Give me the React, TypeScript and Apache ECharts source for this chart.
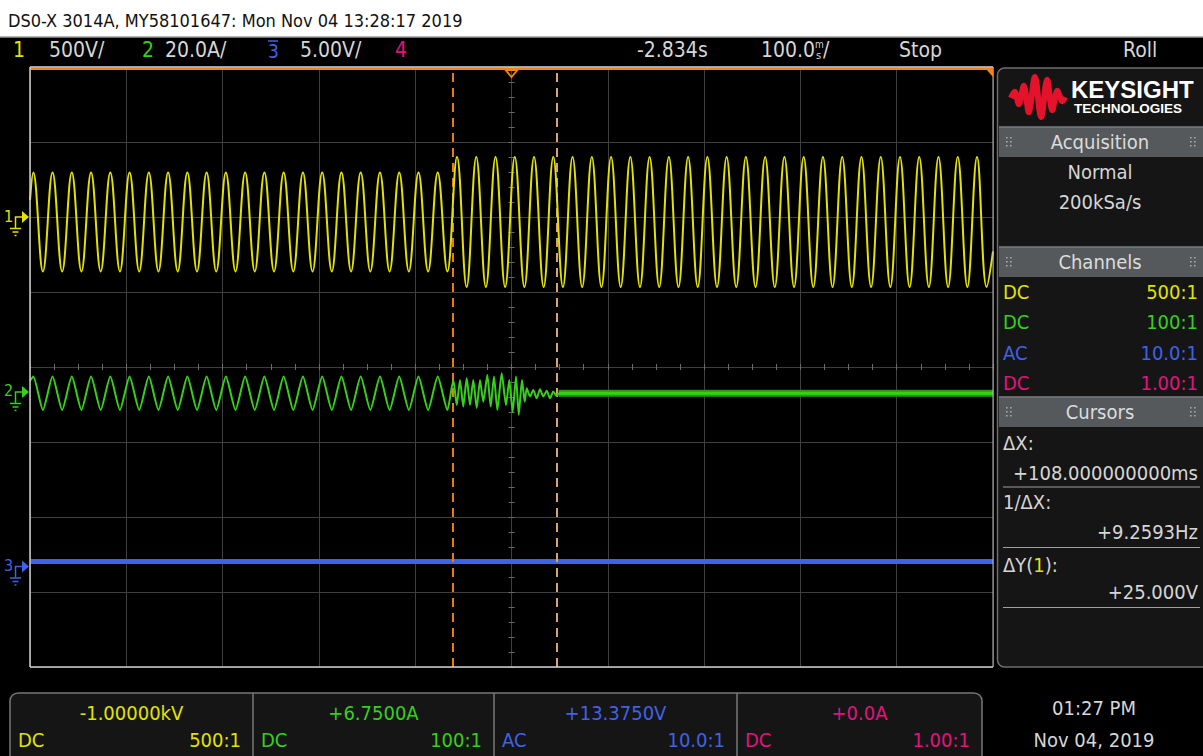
import React, { useEffect, useRef } from "react";
import * as echarts from "echarts";

const FONT = '"DejaVu Sans Condensed", "Liberation Sans Narrow", "DejaVu Sans", sans-serif';

// ---- time base (ms, trigger at 0) ----
const timeMinMs = -500;
const timeMaxMs = 500;
const timePerDivMs = 100;
const vertDivs = 4;

// ---- channel 1 (yellow, volts) ----
const ch1VoltsPerDiv = 500;
const ch1OffsetDiv = 2;
const ch1FirstPeakMs = -496.6;
const ch1PeriodMs = 20;
const ch1StartV = 113;
const ch1EndV = -230;
const ch1PeakV = [
  297, 297, 297, 297, 297, 297, 297, 297, 297, 297, 297,
  297, 297, 297, 297, 297, 297, 297, 297, 297, 297, 297,
  400, 400, 400, 400, 400, 400, 400, 400, 400, 400, 400, 400, 400, 400,
  400, 400, 400, 400, 400, 400, 400, 400, 400, 400, 400, 400, 400, 400,
];
const ch1TroughV = [
  -363, -363, -363, -363, -363, -363, -363, -363, -363, -363, -363,
  -363, -363, -363, -363, -363, -363, -363, -363, -363, -363, -363,
  -467, -467, -467, -467, -467, -467, -467, -467, -467, -467, -467, -467, -467, -467,
  -467, -467, -467, -467, -467, -467, -467, -467, -467, -467, -467, -467, -467, -467,
];

// ---- channel 2 (green, amps) ----
const ch2AmpsPerDiv = 20;
const ch2OffsetDiv = -0.333;
const ch2FirstPeakMs = -496.6;
const ch2PeriodMs = 20;
const ch2StartA = 3.0;
const ch2PeakA = [
  4.1, 4.1, 4.1, 4.1, 4.1, 4.1, 4.1, 4.1, 4.1, 4.1, 4.1,
  4.1, 4.1, 4.1, 4.1, 4.1, 4.1, 4.1, 4.1, 4.1, 4.1, 4.1,
];
const ch2TroughA = [
  -4.8, -4.8, -4.8, -4.8, -4.8, -4.8, -4.8, -4.8, -4.8, -4.8, -4.8,
  -4.8, -4.8, -4.8, -4.8, -4.8, -4.8, -4.8, -4.8, -4.8, -4.8, -4.8,
];
const ch2BurstMs = [
  -60.4, -56.9, -53.5, -50.1, -46.5, -43.1, -39.7, -36.1, -32.7, -29.3, -25.1,
  -21.6, -18.2, -14.7, -10.2, -5.7, -2.3, 1.2, 4.7, 7.5, 10.9, 13.7,
  15.8, 19.2, 22.6, 26.1, 29.6, 33.0, 36.6, 40.0, 43.4, 46.9,
];
const ch2BurstA = [
  3.2, -3.5, 3.2, -3.9, 3.7, -3.5, 3.2, -4.3, 3.2, -2.6, 4.5,
  -3.9, 4.1, -4.8, 5.0, -3.5, 3.2, -5.3, 4.1, -6.1, 3.2, -2.6,
  1.0, -1.2, 0.5, -1.7, 0.7, -1.2, 0.3, -1.7, 0.1, -1.1,
];
const ch2SettledA = -0.35;
const ch2SettledFromMs = 49;

// ---- channel 3 (blue, volts) ----
const ch3VoltsPerDiv = 5;
const ch3OffsetDiv = -2.66;
const ch3LevelV = 0.33;

// ---- cursors / trigger ----
const cursorTimesMs = [-61.5, 46.5];
const triggerTimeMs = 0;

// ---- texts ----
const titleText = "DS0-X 3014A, MY58101647: Mon Nov 04 13:28:17 2019";
const channelCoupling = ["DC", "DC", "AC", "DC"];
const channelProbe = ["500:1", "100:1", "10.0:1", "1.00:1"];
const channelReadout = ["-1.00000kV", "+6.7500A", "+13.3750V", "+0.0A"];

const YELLOW = "#e2e200";
const GREEN = "#36d01a";
const BLUE = "#3f62e6";
const PINK = "#e3137c";
const CH_COLORS = [YELLOW, GREEN, BLUE, PINK];
const TXT = "#d6d6d6";
const ORANGE = "#f0841a";
const CURSOR_COLORS = ["#ec7a0c", "#d9a36c"];

export default function App() {
  const ref = useRef<HTMLDivElement>(null);

  useEffect(() => {
    document.body.style.margin = "0";
    document.body.style.background = "#000";
    const chart = echarts.init(ref.current!, null, { renderer: "svg" });

    const ch1Div = (v: number) => v / ch1VoltsPerDiv + ch1OffsetDiv;
    const ch2Div = (a: number) => a / ch2AmpsPerDiv + ch2OffsetDiv;
    const ch3Div = (v: number) => v / ch3VoltsPerDiv + ch3OffsetDiv;

    const ch1Data: number[][] = [[timeMinMs, ch1Div(ch1StartV)]];
    ch1PeakV.forEach((p, i) => {
      const t = ch1FirstPeakMs + i * ch1PeriodMs;
      ch1Data.push([t, ch1Div(p)]);
      ch1Data.push([t + ch1PeriodMs / 2, ch1Div(ch1TroughV[i])]);
    });
    ch1Data.push([timeMaxMs, ch1Div(ch1EndV)]);

    const ch2Data: number[][] = [[timeMinMs, ch2Div(ch2StartA)]];
    ch2PeakA.forEach((p, i) => {
      const t = ch2FirstPeakMs + i * ch2PeriodMs;
      ch2Data.push([t, ch2Div(p)]);
      ch2Data.push([t + ch2PeriodMs / 2, ch2Div(ch2TroughA[i])]);
    });
    ch2BurstMs.forEach((t, i) => ch2Data.push([t, ch2Div(ch2BurstA[i])]));
    ch2Data.push([ch2SettledFromMs, ch2Div(ch2SettledA)]);
    const ch2Flat = [
      [ch2SettledFromMs, ch2Div(ch2SettledA)],
      [timeMaxMs, ch2Div(ch2SettledA)],
    ];
    const ch3Data = [
      [timeMinMs, ch3Div(ch3LevelV)],
      [timeMaxMs, ch3Div(ch3LevelV)],
    ];

    const gridColor = "#3f3f3f";
    const tickColor = "#6c6c6c";
    const mkX = (position: "top" | "bottom", split: boolean) => ({
      type: "value",
      min: timeMinMs,
      max: timeMaxMs,
      interval: timePerDivMs,
      position,
      axisLine: { show: true, onZero: true, lineStyle: { color: gridColor, width: 1 } },
      axisTick: { show: true, inside: true, length: 3, lineStyle: { color: tickColor } },
      minorTick: { show: true, splitNumber: 4, length: 3, lineStyle: { color: tickColor } },
      axisLabel: { show: false },
      splitLine: { show: split, lineStyle: { color: gridColor, width: 1 } },
    });
    const mkY = (position: "left" | "right", split: boolean) => ({
      type: "value",
      min: -vertDivs,
      max: vertDivs,
      interval: 1,
      position,
      axisLine: { show: true, onZero: true, lineStyle: { color: gridColor, width: 1 } },
      axisTick: { show: true, inside: true, length: 3, lineStyle: { color: tickColor } },
      minorTick: { show: true, splitNumber: 5, length: 3, lineStyle: { color: tickColor } },
      axisLabel: { show: false },
      splitLine: { show: split, lineStyle: { color: gridColor, width: 1 } },
    });

    chart.setOption({
      animation: false,
      backgroundColor: "#000",
      grid: { left: 30, top: 67, width: 963, height: 600, containLabel: false },
      xAxis: [mkX("bottom", true), mkX("top", false)],
      yAxis: [mkY("left", true), mkY("right", false)],
      series: [
        {
          type: "line",
          name: "ch3",
          data: ch3Data,
          symbol: "none",
          lineStyle: { color: BLUE, width: 5 },
          silent: true,
          z: 3,
          markLine: {
            silent: true,
            symbol: ["none", "none"],
            label: { show: false },
            lineStyle: { type: [9, 6], width: 2 },
            data: cursorTimesMs.map((t, i) => ({
              xAxis: t,
              lineStyle: { color: CURSOR_COLORS[i], type: [9, 6], width: 2 },
            })),
          },
        },
        {
          type: "line",
          name: "ch2flat",
          data: ch2Flat,
          symbol: "none",
          lineStyle: { color: "#2a9a14", width: 7 },
          silent: true,
          z: 4,
        },
        {
          type: "line",
          name: "ch2",
          data: ch2Data,
          symbol: "none",
          smooth: 0.2,
          lineStyle: { color: GREEN, width: 2 },
          silent: true,
          z: 5,
        },
        {
          type: "line",
          name: "ch2flatcore",
          data: ch2Flat,
          symbol: "none",
          lineStyle: { color: GREEN, width: 3 },
          silent: true,
          z: 5,
        },
        {
          type: "line",
          name: "ch1",
          data: ch1Data,
          symbol: "none",
          smooth: 0.4,
          lineStyle: { color: YELLOW, width: 2 },
          silent: true,
          z: 6,
        },
      ],
    });

    const px = (t: number, d: number) =>
      chart.convertToPixel({ gridIndex: 0 }, [t, d]) as number[];

    const txt = (
      x: number,
      y: number,
      text: string,
      fill: string,
      size: number,
      align: string = "left",
      extra: any = {}
    ) => ({
      type: "text",
      x,
      y,
      silent: true,
      z: 50,
      style: {
        text,
        fill,
        fontSize: size,
        fontFamily: FONT,
        align,
        verticalAlign: "middle",
        textAlign: align,
        textVerticalAlign: "middle",
        ...extra,
      },
    });
    const ln = (x1: number, y1: number, x2: number, y2: number, stroke: string, lw = 1, z = 50) => ({
      type: "line",
      silent: true,
      z,
      shape: { x1, y1, x2, y2 },
      style: { stroke, lineWidth: lw },
    });
    const rc = (x: number, y: number, w: number, h: number, fill: string, stroke?: string, r: any = 0, z = 40) => ({
      type: "rect",
      silent: true,
      z,
      shape: { x, y, width: w, height: h, r },
      style: { fill, stroke: stroke || "none", lineWidth: stroke ? 1.5 : 0 },
    });
    const dots = (x: number, y: number) => {
      const out: any[] = [];
      for (let c = 0; c < 2; c++)
        for (let r = 0; r < 3; r++)
          out.push({
            type: "rect",
            silent: true,
            z: 52,
            shape: { x: x + c * 4, y: y - 5 + r * 4, width: 1.6, height: 1.6 },
            style: { fill: "#a8a8a8" },
          });
      return out;
    };

    const g: any[] = [];
    // header
    g.push(rc(0, 0, 1203, 37, "#ffffff", undefined, 0, 30));
    g.push(ln(0, 37, 1203, 37, "#9a9a9a", 1.5));
    g.push(txt(8, 20, titleText, "#111", 18));
    // status bar
    const SB = 50;
    g.push(txt(13, SB, "1", YELLOW, 21));
    g.push(txt(49, SB, "500V/", TXT, 21));
    g.push(txt(142, SB, "2", GREEN, 21));
    g.push(txt(165, SB, "20.0A/", TXT, 21));
    g.push(txt(268, SB + 1, "3", BLUE, 19));
    g.push(ln(268, 41, 278, 41, BLUE, 1.5));
    g.push(txt(300, SB, "5.00V/", TXT, 21));
    g.push(txt(395, SB, "4", PINK, 21));
    g.push(txt(637, SB, "-2.834s", TXT, 21));
    g.push(txt(761, SB, "100.0", TXT, 21));
    g.push(txt(815, SB - 6, "m", TXT, 10));
    g.push(txt(816, SB + 5, "s", TXT, 11));
    g.push(txt(823, SB, "/", TXT, 21));
    g.push(txt(899, SB, "Stop", TXT, 21));
    g.push(txt(1123, SB, "Roll", TXT, 21));

    // plot frame
    g.push(ln(30, 67, 993, 67, "#d8d8d8", 1.5, 60));
    g.push(ln(30, 69, 993, 69, ORANGE, 2, 60));
    g.push({
      type: "polygon",
      silent: true,
      z: 61,
      shape: { points: [[985, 68], [993, 68], [993, 77]] },
      style: { fill: ORANGE },
    });
    g.push(ln(30, 67, 30, 667, "#cfcfcf", 1.5, 60));
    g.push(ln(30, 667, 993, 667, "#cfcfcf", 1.5, 60));
    g.push(ln(993, 67, 993, 667, "#bdbdbd", 1, 60));

    // trigger marker
    const trig = px(triggerTimeMs, 0);
    g.push({
      type: "polygon",
      silent: true,
      z: 62,
      shape: { points: [[trig[0] - 6, 70], [trig[0] + 6, 70], [trig[0], 77]] },
      style: { fill: "none", stroke: ORANGE, lineWidth: 1.8 },
    });

    // ground markers
    const marker = (d: number, label: string, color: string) => {
      const ry = px(timeMinMs, d)[1];
      g.push(txt(4, ry - 1, label, color, 16));
      g.push({
        type: "polyline",
        silent: true,
        z: 55,
        shape: { points: [[15.5, ry + 11], [15.5, ry], [22, ry]] },
        style: { stroke: color, lineWidth: 1.5, fill: "none" },
      });
      g.push({
        type: "polygon",
        silent: true,
        z: 55,
        shape: { points: [[22, ry - 6], [29, ry], [22, ry + 6]] },
        style: { fill: color },
      });
      g.push(ln(10, ry + 11.5, 21, ry + 11.5, color, 1.5, 55));
      g.push(ln(12.5, ry + 15, 18.5, ry + 15, color, 1.5, 55));
      g.push(ln(14.5, ry + 18.5, 16.5, ry + 18.5, color, 1.5, 55));
    };
    marker(ch1OffsetDiv, "1", YELLOW);
    marker(ch2OffsetDiv, "2", GREEN);
    marker(ch3OffsetDiv, "3", BLUE);

    // right panel
    g.push(rc(997.5, 68, 220, 599, "#151515", "#6e6e6e", 7, 40));
    // logo
    g.push({
      type: "polyline",
      silent: true,
      z: 52,
      shape: {
        points: [
          [1011, 98], [1015, 92], [1019, 104], [1024, 86], [1029, 112], [1035, 77],
          [1041, 117], [1047, 80], [1052, 110], [1057, 91], [1062, 101], [1065, 97],
        ],
        smooth: 0.35,
      },
      style: { stroke: "#e5122c", lineWidth: 6, fill: "none", lineJoin: "round" },
    });
    g.push(txt(1071, 89, "KEYSIGHT", "#ffffff", 24, "left", {
      fontFamily: '"Liberation Sans", Arial, sans-serif',
      fontWeight: "bold",
    }));
    g.push(txt(1074, 108, "TECHNOLOGIES", "#ffffff", 13.5, "left", {
      fontFamily: '"Liberation Sans", Arial, sans-serif',
      fontWeight: "bold",
    }));
    // section headers
    const header = (y: number, label: string) => {
      g.push(rc(999, y, 204, 30, "#55595c", undefined, 0, 45));
      g.push(ln(999, y, 1203, y, "#7a7e81", 1.5, 46));
      g.push(txt(1100, y + 15, label, "#dcdcdc", 20, "center"));
      dots(1006, y + 15).forEach((d) => g.push(d));
      dots(1190, y + 15).forEach((d) => g.push(d));
    };
    header(127, "Acquisition");
    g.push(txt(1100, 172, "Normal", TXT, 20, "center"));
    g.push(txt(1100, 202, "200kSa/s", TXT, 20, "center"));
    header(247, "Channels");
    const rowsY = [292, 322, 353, 383];
    rowsY.forEach((y, i) => {
      g.push(txt(1003, y, channelCoupling[i], CH_COLORS[i], 20));
      g.push(txt(1198, y, channelProbe[i], CH_COLORS[i], 20, "right"));
    });
    header(397, "Cursors");
    g.push(txt(1003, 443, "ΔX:", TXT, 20));
    g.push(txt(1198, 473, "+108.000000000ms", TXT, 20, "right"));
    g.push(ln(1003, 487, 1200, 487, "#a0a0a0", 1.2));
    g.push(txt(1003, 502, "1/ΔX:", TXT, 20));
    g.push(txt(1198, 532, "+9.2593Hz", TXT, 20, "right"));
    g.push(ln(1003, 547.5, 1200, 547.5, "#a0a0a0", 1.2));
    g.push(txt(1003, 565, "", TXT, 20, "left", {
      text: "{a|ΔY(}{b|1}{a|):}",
      rich: {
        a: { fill: TXT, fontSize: 20, fontFamily: FONT },
        b: { fill: YELLOW, fontSize: 20, fontFamily: FONT },
      },
    }));
    g.push(txt(1198, 592, "+25.000V", TXT, 20, "right"));
    g.push(ln(1003, 607.5, 1200, 607.5, "#a0a0a0", 1.2));

    // bottom readout panel
    g.push(rc(10, 693, 972, 80, "#151515", "#777777", 8, 40));
    const cells = [10, 253, 494, 737, 982];
    [253, 494, 737].forEach((x) => g.push(ln(x, 693, x, 756, "#777777", 1.5)));
    for (let i = 0; i < 4; i++) {
      const l = cells[i];
      const r = cells[i + 1];
      g.push(txt((l + r) / 2, 713, channelReadout[i], CH_COLORS[i], 20, "center"));
      g.push(txt(l + 8, 740, channelCoupling[i], CH_COLORS[i], 20));
      g.push(txt(r - 12, 740, channelProbe[i], CH_COLORS[i], 20, "right"));
    }
    g.push(txt(1094, 708, "01:27 PM", TXT, 20, "center"));
    g.push(txt(1094, 740, "Nov 04, 2019", TXT, 20, "center"));

    chart.setOption({ graphic: { elements: g } });

    return () => chart.dispose();
  }, []);

  return <div ref={ref} style={{ width: 1203, height: 756, background: "#000" }} />;
}
